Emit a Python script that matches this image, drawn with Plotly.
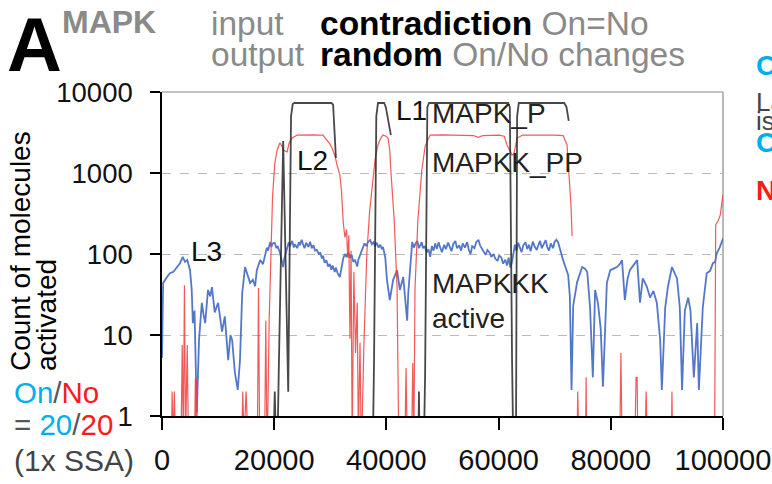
import plotly.graph_objects as go

# ---------------- data ----------------
x_ticks = [0, 20000, 40000, 60000, 80000, 100000]
x_tick_labels = ["0", "20000", "40000", "60000", "80000", "100000"]
y_ticks = [1, 10, 100, 1000, 10000]
y_tick_labels = ["1", "10", "100", "1000", "10000"]

# MAPKKK active (blue): (time, count)
blue_pts = [
    (0, 5.2), (200, 44), (900, 52), (1400, 58), (2000, 60), (2700, 69), (3200, 77), (3700, 92),
    (4100, 80), (4500, 84), (5000, 63), (5300, 36), (5500, 14), (5800, 20), (6200, 1.1), (6600, 8.7),
    (7100, 25), (7400, 18), (7700, 14), (8200, 36), (8600, 30), (8900, 39), (9400, 19), (10000, 25),
    (10400, 15), (10700, 11), (11200, 17), (11500, 8), (11800, 4.9), (12200, 10), (12500, 8.7),
    (13000, 3.4), (13500, 2.1), (13900, 4.9), (14300, 33), (14800, 69), (15300, 52), (15700, 44),
    (16200, 48), (16600, 40), (16900, 63), (17500, 84), (18000, 75),
    (18400, 103), (18700, 120), (18900, 110), (19300, 141), (19500, 122), (19700, 135), (20100, 137),
    (20400, 118), (20600, 125), (21000, 105), (21300, 85), (21600, 69), (21800, 88), (22000, 100),
    (22300, 112), (22600, 140), (22800, 125), (23200, 145), (23500, 120), (23700, 132), (24100, 118),
    (24400, 140), (24600, 128), (24900, 150), (25100, 135), (25400, 118), (25700, 138), (26100, 122),
    (26400, 142), (26700, 118), (27000, 128), (27300, 110), (27600, 112), (28000, 98), (28200, 105),
    (28500, 88), (28700, 95), (29000, 78), (29300, 84), (29600, 70), (29900, 75), (30200, 64),
    (30400, 72), (30800, 60), (31000, 68), (31300, 58), (31700, 52), (32000, 70), (32300, 88),
    (32600, 100), (32900, 92), (33200, 105), (33500, 90), (33800, 98), (34100, 80), (34400, 85),
    (34800, 70), (35000, 85), (35300, 95), (35600, 110), (35800, 118), (36100, 135), (36400, 125),
    (36700, 140), (37100, 149), (37400, 132), (37700, 140), (38000, 125), (38300, 138), (38600, 120),
    (38900, 130), (39200, 115), (39400, 122), (39800, 90), (40100, 48), (40600, 27), (41200, 48),
    (41900, 63), (42400, 36), (43000, 52), (43700, 15), (43900, 33),
    (44600, 141), (44900, 120), (45200, 135), (45500, 145), (45800, 118), (46000, 128), (46300, 140),
    (46500, 118), (46800, 125), (47200, 105), (47500, 115), (47800, 92),
    (48100, 125), (48400, 110), (48700, 135), (49000, 115), (49300, 140), (49600, 120), (49900, 105),
    (50300, 130), (50600, 115), (51000, 138), (51300, 122), (51600, 108), (51900, 132), (52300, 145),
    (52600, 118), (53000, 128), (53300, 110), (53600, 135), (54000, 120), (54400, 140), (54700, 112),
    (55000, 100), (55300, 125), (55700, 118), (56000, 140), (56400, 150), (56700, 128), (57000, 115),
    (57400, 105), (57700, 98), (58000, 112), (58400, 104), (58700, 92), (59100, 100), (59400, 88),
    (59800, 82), (60100, 96), (60500, 90), (60800, 76), (61200, 85), (61500, 72), (61800, 90),
    (62100, 68), (62400, 80), (62700, 118), (62900, 130), (63200, 110), (63500, 138), (63800, 120),
    (64100, 105), (64400, 128), (64800, 140), (65100, 115), (65400, 130), (65700, 108), (66100, 142),
    (66400, 125), (66800, 112), (67100, 130), (67400, 145), (67700, 118), (68000, 128), (68400, 148),
    (68700, 120), (69000, 110), (69300, 135), (69700, 118), (70000, 142), (70300, 150), (70600, 140),
    (71500, 84), (72400, 55), (72700, 30), (73000, 2.1), (73300, 23), (74000, 45), (74900, 69),
    (75400, 66), (75800, 60), (76300, 22), (76800, 3.0), (77200, 36), (77700, 25), (78200, 12),
    (78600, 2.3), (79300, 44), (79900, 63), (80500, 66), (81100, 69), (81600, 75), (82000, 84),
    (82500, 27), (83000, 50), (83400, 63), (84000, 72), (84700, 84), (85200, 25), (85700, 50),
    (86400, 40), (87000, 29), (87600, 35), (88200, 25), (88800, 8.7), (89100, 2.1), (89700, 22),
    (90200, 40), (90900, 69), (91300, 60), (91800, 50), (92300, 22), (92700, 2.1), (93200, 20),
    (93800, 29), (94200, 20), (94500, 8.7), (94800, 3.0), (95400, 14), (95700, 2.1), (96400, 22),
    (97100, 58), (97700, 62), (98200, 77), (98600, 80), (98900, 103), (99400, 120), (99800, 149),
    (100000, 155),
]

# MAPKK_PP (red); 0.5 = zero count (below the axis), None = no value
red_pts = [
    (0, 0.5), (1700, 0.5), (1800, 2.0), (2000, 0.5), (2200, 2.0), (2400, 0.5), (3400, 0.5),
    (3600, 7.5), (3800, 0.5), (4000, 41), (4200, 0.5), (4500, 7.5), (4700, 0.5), (5800, 0.5),
    (5950, 2.9), (6100, 0.5), (6200, 2.9), (6300, 0.5), (14200, 0.5), (14400, 2.0), (14600, 0.5),
    (15000, 2.0), (15300, 0.5), (17000, 0.5), (17200, 38), (17400, 0.5), (18300, 0.5), (18500, 15),
    (18700, 0.5), (18900, 1.5), (19100, 15), (19400, 130), (19700, 500), (20100, 1300), (20500, 1900),
    (21000, 2350), (21300, 2200), (21700, 1900), (22300, 1820), (22700, 2400), (23200, 2700),
    (24100, 2940), (25000, 2960), (26000, 2940), (27000, 2960), (28000, 2940), (28700, 2940),
    (29100, 2700), (29900, 2300), (30300, 2040), (30800, 1650), (31200, 1260), (31700, 945),
    (32000, 600), (32300, 250), (32600, 160), (32900, 200), (33100, 90), (33300, 170), (33500, 9),
    (33700, 110), (33900, 0.5), (34200, 60), (34500, 6), (34800, 25), (35000, 0.5), (35300, 8),
    (35500, 0.5), (35600, 0.5), (36000, 8), (36500, 97), (37000, 330), (37400, 653), (38000, 1500),
    (38500, 2220), (39000, 2700), (39400, 2940), (39900, 2850), (40300, 2700), (40600, 1900),
    (40800, 1060), (41100, 500), (41400, 255), (41700, 80), (41900, 38), (42200, 0.5), (43300, 0.5),
    (43500, 3.9), (43700, 0.5), (44500, 0.5), (44700, 4.5), (44900, 0.5), (45100, 38), (45600, 255),
    (46300, 1060), (46900, 2150), (47800, 2940), (50000, 2960), (53000, 2940), (55500, 2900),
    (56400, 2750), (57200, 2900), (60000, 2940), (61000, 2850), (61500, 2220), (62000, 1900),
    (62400, 1670), (62700, 1700), (63000, 2200), (63300, 2700), (64300, 2940), (67000, 2960),
    (70000, 2940), (71500, 2900), (72200, 2220), (72500, 1060), (72900, 403), (73100, 167),
    (73150, None), (74000, 0.5), (74100, 2.0), (74300, 0.5), (75500, 0.5), (75600, 3.0), (75700, 0.5),
    (81600, 0.5), (81800, 6.0), (82000, 0.5), (84300, 0.5), (84500, 3.0), (84700, 3.0), (84800, 0.5),
    (86100, 0.5), (86300, 2.0), (86500, 0.5), (90800, 0.5), (90900, 2.0), (91000, 0.5), (98500, 0.5),
    (98600, 9.2), (98700, 230), (99100, 255), (99500, 300), (100000, 540),
]

# MAPK_P (black)
black_pts = [
    (19900, 0.5), (20100, 2.0), (20300, 0.5), (20600, 0.5), (20800, 3.2), (21600, 2480), (22500, 2.0),
    (23000, 5000), (23300, 7100), (23600, 7310), (30200, 7310), (30500, 7000), (31000, 1530),
    (31100, None), (37600, 0.5), (37800, 5), (38200, 5000), (38500, 7310), (39600, 7310), (39900, 6500),
    (40800, 2940), (40900, None), (45700, 0.5), (45800, 2.0), (45900, 0.5), (46700, 0.5), (46900, 3.2),
    (47300, 6500), (47600, 7310), (61700, 7310), (62000, 6500), (62400, 5), (62600, 0.5), (63100, 0.5),
    (63300, 5000), (63600, 7310), (71700, 7310), (72100, 6500), (72500, 4390),
]

blue_t, blue_v = [p[0] for p in blue_pts], [p[1] for p in blue_pts]
red_t, red_v = [p[0] for p in red_pts], [p[1] for p in red_pts]
black_t, black_v = [p[0] for p in black_pts], [p[1] for p in black_pts]

# ---------------- figure ----------------
W, H = 772, 484
L, R, T, B = 162, 723, 92, 416
FONT = "Liberation Sans, Arial, Helvetica, sans-serif"
NARROW = "Liberation Sans Narrow, Arial Narrow, Liberation Sans, Arial, sans-serif"
GRAY = "#8a8a8a"
CYAN = "#00aeef"
RED = "#ff1a1a"


def px(x):
    return (x - L) / (R - L)


def py(y):
    return (B - y) / (B - T)


fig = go.Figure()
fig.add_trace(go.Scatter(x=blue_t, y=blue_v, mode="lines",
                         line=dict(color="rgba(65,105,195,0.9)", width=1.8)))
fig.add_trace(go.Scatter(x=red_t, y=red_v, mode="lines",
                         line=dict(color="rgba(240,60,60,0.85)", width=1.2)))
fig.add_trace(go.Scatter(x=black_t, y=black_v, mode="lines",
                         line=dict(color="rgba(40,40,40,0.85)", width=1.8)))

ann = []


def add(text, x, y, size, color="#000", xanchor="left", yanchor="middle", angle=0, bold=False,
        family=FONT):
    if bold:
        text = "<b>" + text + "</b>"
    ann.append(dict(text=text, x=px(x), y=py(y), xref="paper", yref="paper", showarrow=False,
                    xanchor=xanchor, yanchor=yanchor, textangle=angle,
                    font=dict(family=family, size=size, color=color)))


# header
add("A", 5, 44, 76, "#000", bold=True, family=NARROW)
add("MAPK", 60, 22, 32, GRAY, bold=True)
add("input", 209, 24, 33.5, GRAY)
add("output", 209, 55, 33.5, GRAY)
add("<b><span style='color:#000'>contradiction</span></b> On=No", 318, 24, 33.5, GRAY)
add("<b><span style='color:#000'>random</span></b> On/No changes", 318, 55, 33.5, GRAY)

# right-edge (cut-off) texts
add("On", 754, 65, 28, CYAN, bold=True)
add("Las", 754, 102, 26, "#444")
add("is", 754, 121, 26, "#444")
add("On", 754, 142, 28, CYAN, bold=True)
add("No", 754, 190, 28, RED, bold=True)

# y-axis title (two tight lines) and footnote
add("Count of molecules", 20, 373, 28, "#000", xanchor="center", yanchor="bottom", angle=-90)
add("activated", 46, 373, 28, "#000", xanchor="center", yanchor="bottom", angle=-90)
add("<span style='color:%s'>On</span>/<span style='color:%s'>No</span>" % (CYAN, RED), 12, 392, 29.5, "#555")
add("= <span style='color:%s'>20</span>/<span style='color:%s'>20</span>" % (CYAN, RED), 12, 425, 29.5, "#555")
add("(1x SSA)", 12, 460, 30, "#444")

# in-plot labels
add("L1", 394, 110, 28, "#111")
add("L2", 295, 160, 28, "#111")
add("L3", 189, 251, 28, "#111")
add("MAPK_P", 430, 114, 28, "#222")
add("MAPKK_PP", 430, 162, 28, "#222")
add("MAPKKK", 430, 283, 28, "#222")
add("active", 430, 318, 28, "#222")

shapes = [
    dict(type="line", xref="paper", yref="paper", x0=0, x1=1, y0=1, y1=1,
         line=dict(color="#b0b0b0", width=1.5), layer="below"),
    dict(type="line", xref="paper", yref="paper", x0=1, x1=1, y0=0, y1=1,
         line=dict(color="#a0a0a0", width=1.5), layer="below"),
]

fig.update_layout(
    width=W, height=H, autosize=False,
    margin=dict(l=L, r=W - R, t=T, b=H - B, pad=0),
    paper_bgcolor="white", plot_bgcolor="white",
    showlegend=False,
    annotations=ann, shapes=shapes,
    font=dict(family=FONT),
)
fig.update_xaxes(range=[0, 100000], tickvals=x_ticks, ticktext=x_tick_labels,
                 tickfont=dict(family=FONT, size=29, color="#111"),
                 ticks="outside", ticklen=12, tickwidth=1.5, tickcolor="#000",
                 showline=True, linecolor="#000", linewidth=1.5,
                 showgrid=False, zeroline=False, ticklabelstandoff=5, automargin=False,
                 ticklabeloverflow="allow")
fig.update_yaxes(type="log", range=[0, 4], tickvals=y_ticks, ticktext=y_tick_labels,
                 tickfont=dict(family=FONT, size=27.5, color="#111"),
                 ticks="outside", ticklen=10, tickwidth=1.5, tickcolor="#000",
                 showline=True, linecolor="#000", linewidth=1.5,
                 showgrid=True, gridcolor="#bbbbbb", griddash="dash", gridwidth=1,
                 zeroline=False, ticklabelstandoff=12, automargin=False)

fig.write_html("out.html", config={"displayModeBar": False},
               post_script="document.body.style.margin='0';document.body.style.overflow='hidden';")
